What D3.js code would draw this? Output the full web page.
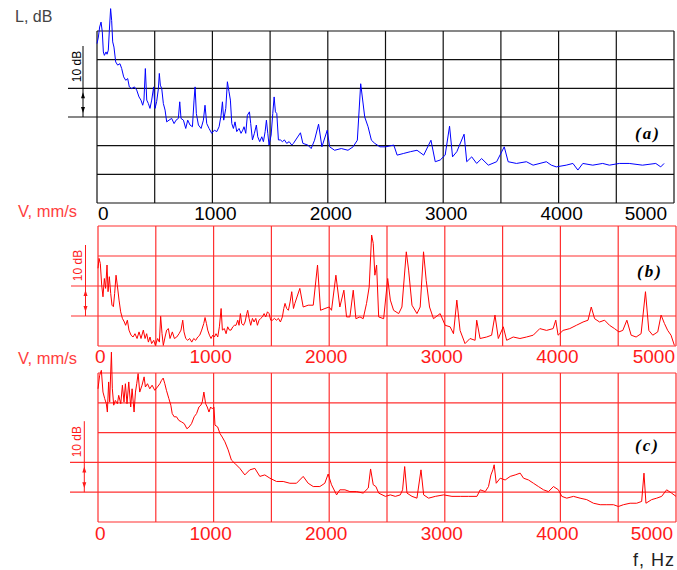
<!DOCTYPE html>
<html><head><meta charset="utf-8">
<script src="https://cdn.jsdelivr.net/npm/d3@7"></script>
<style>body{margin:0;background:#fff;} svg{display:block}</style>
</head><body><svg id="c" width="677" height="570"></svg>
<script>
const freqTicks = [0,1000,2000,3000,4000,5000];

const freqA = [0,12,23,35,46,55,64,78,87,98,107,118,127,136,147,162,179,199,214,231,249,266,280,301,324,344,364,381,396,407,419,431,445,459,474,491,503,517,532,540,549,561,575,590,604,624,647,668,685,705,717,728,749,769,786,806,827,841,850,861,879,902,922,936,951,971,994,1017,1038,1058,1075,1087,1098,1116,1130,1144,1156,1168,1182,1196,1211,1231,1248,1263,1274,1289,1303,1321,1332,1347,1364,1381,1393,1410,1428,1442,1457,1468,1480,1491,1509,1523,1535,1546,1558,1572,1589,1607,1624,1644,1665,1688,1702,
  1763,1784,1827,1856,1885,1920,1949,1995,2016,2059,2117,2175,2219,2256,2285,2320,2349,2378,2407,2451,2500,2572,2601,2658,2716,2773,2831,2894,2931,2974,3017,3055,3081,3118,3181,3204,3247,3290,3333,3391,3463,3529,3563,3635,3721,3779,3894,3937,3980,4066,4124,4167,4210,4296,4382,4440,4526,4612,4727,4842,4885,4914];
const levelA = [55.6,57.9,61.4,63.1,59.7,52.7,51.5,52.7,51.9,53.3,60.2,67.8,63.7,56.2,54.4,49.2,48.1,48.6,46.9,44.0,42.8,43.4,40.5,39.9,40.5,39.4,37.0,35.9,34.1,35.9,46.9,35.9,34.7,33.0,35.9,40.5,33.0,35.4,39.9,45.2,41.1,39.9,34.7,32.4,28.3,28.9,29.5,27.7,28.9,29.5,35.3,29.5,28.9,26.0,28.9,27.2,26.6,35.9,40.5,31.2,27.2,26.0,28.9,34.1,27.7,26.0,24.3,25.4,24.9,26.6,30.6,35.3,28.9,33.0,42.3,38.8,35.9,27.7,26.0,28.3,24.9,26.0,24.3,25.4,26.6,24.3,30.6,31.8,27.7,22.0,24.3,27.2,23.1,21.4,23.1,21.4,24.9,28.9,24.3,20.2,23.7,31.2,37.0,31.8,31.2,22.0,22.0,21.4,22.0,20.8,21.4,20.2,20.8,
  24.5,20.8,20.2,19.0,21.9,27.5,19.6,25.4,19.6,18.4,19.0,18.4,19.6,21.9,41.6,30.0,26.6,21.9,20.8,19.6,19.6,20.2,16.7,17.3,17.9,18.4,16.7,21.9,14.4,15.0,16.7,26.8,16.1,17.9,24.0,14.4,16.1,13.8,15.5,13.2,14.4,19.6,14.4,13.8,14.4,13.2,14.4,13.2,12.6,13.2,13.8,11.5,13.8,13.2,13.8,13.2,13.8,13.8,13.2,13.8,12.6,13.8];

const freqB = [0,9,20,32,43,55,66,78,87,98,110,121,133,144,156,167,182,196,211,228,239,254,268,286,303,320,338,355,372,392,407,421,436,450,464,482,496,516,531,542,554,565,580,594,609,623,643,661,681,701,718,733,744,759,776,793,811,828,845,863,880,897,915,926,938,949,964,978,992,1007,1021,1036,1050,1065,1076,1093,1108,1122,1137,1151,1166,1180,1194,1209,1220,1232,1243,1258,1272,1287,1295,1307,1321,1336,1350,1365,1379,1393,1408,1422,1437,1451,1466,1480,1494,1509,1526,1543,1561,1578,1595,1607,1618,1632,1647,1662,1676,1691,
  1703,1746,1775,1818,1862,1899,1925,1963,2000,2020,2058,2092,2127,2150,2179,2208,2231,2266,2294,2323,2346,2367,2381,2395,2410,2428,2471,2506,2529,2557,2601,2629,2667,2687,2716,2759,2787,2816,2839,2868,2902,2960,3003,3046,3075,3104,3132,3175,3218,3262,3276,3305,3362,3405,3434,3463,3506,3535,3592,3650,3707,3765,3822,3880,3937,3960,3980,4023,4081,4138,4196,4239,4267,4296,4339,4382,4425,4468,4506,4540,4575,4612,4655,4698,4736,4765,4799,4842,4871,4900,4928,4957,4986];
const levelB = [25.9,29.2,27.5,20.3,16.4,22.5,19.2,27.0,18.1,23.1,17.5,13.6,13.1,17.5,23.6,20.3,15.3,11.4,9.2,8.0,6.9,8.6,5.3,3.6,3.0,4.1,2.5,4.7,2.5,5.3,2.5,4.1,1.3,3.0,0.8,1.9,0.2,2.5,1.3,9.9,4.1,0.2,3.0,5.3,5.8,2.5,4.7,2.5,3.0,4.1,5.3,8.6,4.7,2.5,1.9,2.5,1.3,2.5,1.9,3.0,3.6,5.3,7.5,9.5,7.5,5.3,3.6,2.5,3.6,3.0,4.1,3.0,6.4,12.5,5.3,5.8,4.1,6.4,5.3,5.3,6.4,6.9,6.9,8.6,6.9,10.8,7.5,6.9,8.0,10.8,11.9,9.2,6.9,9.2,8.0,9.2,6.9,8.6,9.2,9.7,10.8,9.7,11.4,10.8,8.6,8.6,9.2,8.6,9.2,8.0,9.7,12.5,14.2,12.5,11.9,14.7,18.1,12.5,
  14.2,19.2,13.0,13.6,13.6,27.0,11.9,12.5,13.0,11.9,23.6,13.0,18.6,9.7,9.7,18.6,9.1,9.7,9.1,14.2,19.7,37.0,34.2,23.6,27.0,9.7,9.1,22.5,15.3,11.9,10.8,13.0,31.4,25.3,13.6,10.8,13.0,31.4,21.9,13.0,9.1,10.8,6.9,6.4,4.1,15.3,5.2,0.8,2.5,1.9,8.6,2.5,3.0,3.6,10.3,2.5,6.4,1.9,3.0,2.5,3.0,3.6,5.8,5.2,5.8,8.6,3.6,5.2,5.8,6.9,8.0,8.6,13.0,9.1,8.0,8.6,6.9,5.8,4.7,5.2,8.6,3.6,3.0,4.1,18.1,5.2,3.6,4.7,10.3,7.5,5.2,3.6,0.2];

const freqC = [0,14,29,43,58,72,81,92,101,116,124,136,150,168,179,197,211,225,237,251,266,283,295,312,324,335,347,361,381,399,410,428,448,468,491,514,535,549,564,578,592,613,630,642,659,679,699,722,746,769,786,809,832,853,873,890,902,916,931,945,960,974,988,1003,1012,1035,1055,1075,1098,
  1126,1154,1183,1227,1270,1313,1357,1400,1443,1487,1544,1602,1660,1717,1775,1818,1862,1919,1962,1991,2020,2064,2092,2136,2179,2237,2294,2338,2358,2381,2404,2428,2486,2529,2572,2615,2635,2653,2673,2716,2759,2794,2817,2860,2918,2990,3062,3134,3206,3278,3306,3350,3378,3399,3416,3427,3445,3479,3522,3566,3609,3652,3681,3724,3767,3810,3854,3897,3940,3983,4012,4055,4113,4170,4228,4286,4344,4402,4459,4502,4545,4603,4660,4703,4723,4740,4789,4833,4876,4919,4962,5000];
const levelC = [44.7,49.2,50.9,43.6,41.4,39.7,36.9,47.0,40.3,57.0,44.7,39.2,40.8,39.7,42.5,39.7,45.9,40.3,46.4,39.7,47.0,38.6,44.7,36.9,43.6,46.4,49.8,43.6,45.9,48.7,45.3,46.4,44.7,45.9,44.2,45.3,46.4,47.5,48.3,46.4,44.2,41.4,39.2,36.4,35.3,35.3,34.1,33.6,33.0,31.3,31.8,33.0,35.3,36.4,38.6,39.2,40.3,43.6,39.7,38.6,36.9,38.6,38.0,38.6,32.5,31.9,29.7,28.5,26.9,
  24.2,20.8,19.7,18.0,15.8,17.5,18.0,15.3,15.8,14.7,13.6,13.6,13.0,13.0,15.3,13.0,11.9,11.9,13.0,16.1,12.5,9.1,10.8,10.8,10.2,10.2,9.7,11.4,17.8,12.5,11.9,9.7,8.6,9.1,8.6,9.1,10.8,18.6,9.7,8.6,8.0,17.5,9.1,8.0,8.6,9.1,8.6,8.6,8.6,8.6,10.8,10.2,11.9,15.8,17.5,19.2,13.0,14.7,14.1,15.3,15.8,16.4,14.7,14.1,13.0,11.9,10.8,10.2,11.9,10.8,8.6,8.0,8.6,8.0,7.5,6.3,5.8,5.8,5.8,5.2,5.8,6.3,6.3,6.9,16.4,6.3,7.5,8.0,8.6,10.8,9.7,8.6];

const panelNames = ["(a)","(b)","(c)"];
const yTitles = ["L, dB","V, mm/s","V, mm/s"];
const xTitle = "f, Hz";
const scaleText = "10 dB";

const svg = d3.select("#c");
const FONT = "'Liberation Sans', Arial, sans-serif";

const panels = [
  {freq:freqA, lev:levelA, left:97, right:674, top:31, bottom:203, rows:6, line:"#0000ff", grid:"#111", txt:"#000",
   barLow:30, barX:83, extX:68, dbX:81, tickY:220, tickDx:3, zeroX:98, lastEnd:667,
   title:yTitles[0], titleX:15, titleY:22, titleCol:"#444", nameX:635, nameY:139},
  {freq:freqB, lev:levelB, left:98, right:676, top:226, bottom:346, rows:4, line:"#ff0000", grid:"#ff3030", txt:"#ff1a1a",
   barLow:10, barX:85.5, extX:71, dbX:82, tickY:363, tickDx:-3, zeroX:95, lastEnd:675,
   title:yTitles[1], titleX:18, titleY:217, titleCol:"#ff4040", nameX:637, nameY:277},
  {freq:freqC, lev:levelC, left:98, right:676, top:373, bottom:522, rows:5, line:"#ff0000", grid:"#ff3030", txt:"#ff1a1a",
   barLow:10, barX:84.3, extX:70, dbX:81, tickY:540, tickDx:-3, zeroX:95, lastEnd:673,
   title:yTitles[2], titleX:18, titleY:364, titleCol:"#ff4040", nameX:635, nameY:451}
];

panels.forEach((p, i) => {
  const x = d3.scaleLinear().domain([0,5000]).range([p.left, p.right]);
  const y = d3.scaleLinear().domain([0, p.rows*10]).range([p.bottom, p.top]);
  const g = svg.append("g");
  g.selectAll(".v").data(d3.range(0,5001,500)).enter().append("line")
    .attr("x1", d=>x(d)).attr("x2", d=>x(d)).attr("y1", y(0)).attr("y2", y(p.rows*10))
    .attr("stroke", p.grid).attr("stroke-width", 1.2);
  g.selectAll(".h").data(d3.range(0, p.rows*10+1, 10)).enter().append("line")
    .attr("x1", d => (d===p.barLow || d===p.barLow+10) ? p.extX : x(0)).attr("x2", x(5000))
    .attr("y1", d=>y(d)).attr("y2", d=>y(d))
    .attr("stroke", p.grid).attr("stroke-width", 1.2);
  const yLo = y(p.barLow), yHi = y(p.barLow+10);
  g.append("line").attr("x1", p.barX).attr("x2", p.barX).attr("y1", yLo).attr("y2", yLo-71)
    .attr("stroke", p.txt).attr("stroke-width", 1);
  g.append("path").attr("d", `M${p.barX},${yHi+4}l-2,6h4z M${p.barX},${yLo-4}l-2,-6h4z`).attr("fill", p.txt);
  g.append("text").attr("transform", `translate(${p.dbX},${yLo-50.5}) rotate(-90)`)
    .attr("text-anchor","middle").attr("font-family", FONT).attr("font-size", 12).attr("fill", p.txt)
    .text(scaleText);
  g.append("path").datum(d3.zip(p.freq, p.lev))
    .attr("d", d3.line().x(d=>x(d[0])).y(d=>y(d[1])))
    .attr("fill","none").attr("stroke", p.line).attr("stroke-width", 1).attr("stroke-linejoin","round");
  g.selectAll(".t").data(freqTicks).enter().append("text")
    .attr("x", (d,k) => d===0 ? p.zeroX : (k===freqTicks.length-1 ? p.lastEnd : x(d)+p.tickDx))
    .attr("y", p.tickY)
    .attr("text-anchor", (d,k) => d===0 ? "start" : (k===freqTicks.length-1 ? "end" : "middle"))
    .attr("font-family", FONT).attr("font-size", 19).attr("fill", p.txt)
    .text(d=>d);
  svg.append("text").attr("x", p.titleX).attr("y", p.titleY).attr("font-family", FONT)
    .attr("font-size", i===0 ? 16 : 16.5).attr("fill", p.titleCol).text(p.title);
  svg.append("text").attr("x", p.nameX).attr("y", p.nameY)
    .attr("font-family","'Liberation Serif','Times New Roman',serif").attr("font-weight","bold").attr("font-style","italic")
    .attr("font-size", 17).attr("letter-spacing", 2).attr("fill","#000").text(panelNames[i]);
});

svg.append("text").attr("x", 675).attr("y", 566).attr("text-anchor","end")
  .attr("font-family", FONT).attr("font-size", 18).attr("letter-spacing", 1).attr("fill","#222").text(xTitle);
</script>
</body></html>
